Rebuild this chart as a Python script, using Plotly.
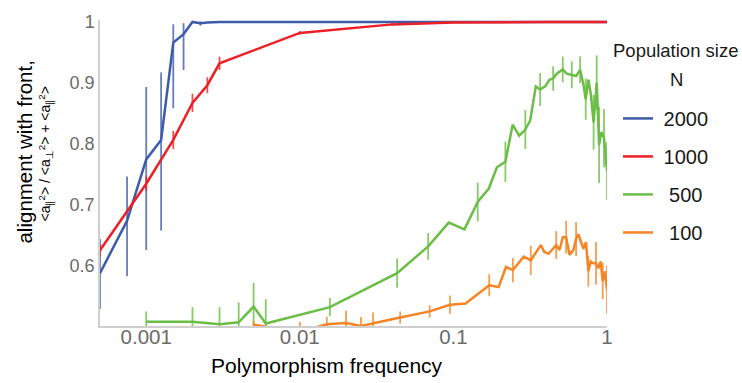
import numpy as np
import plotly.graph_objects as go

# ---- N = 2000 ----
freq_2000 = [0.0005, 0.00075, 0.001, 0.00125, 0.0015, 0.00175, 0.002, 0.00225,
             0.0025, 0.003, 0.005, 0.01, 0.1, 1.0]
align_2000 = [0.587, 0.673, 0.774, 0.806, 0.966, 0.980, 1.0, 0.998,
              0.999, 1.0, 1.0, 1.0, 1.0, 1.0]
err_up_2000 = [0.056, 0.073, 0.119, 0.111, 0.030, 0.018, 0.0, 0.003,
               0.0, 0.0, 0.0, 0.0, 0.0, 0.0]
err_dn_2000 = [0.059, 0.091, 0.149, 0.149, 0.108, 0.059, 0.0, 0.004,
               0.0, 0.0, 0.0, 0.0, 0.0, 0.0]

# ---- N = 1000 ----
freq_1000 = [0.0005, 0.001, 0.0015, 0.002, 0.0025, 0.003, 0.01, 0.04, 0.1,
             0.2, 0.3, 0.4, 0.5, 0.6, 0.7, 0.8, 0.9, 1.0]
align_1000 = [0.6245, 0.734, 0.806, 0.867, 0.896, 0.932, 0.982, 0.996, 0.999,
              1.0, 1.0, 1.0, 1.0, 1.0, 1.0, 1.0, 1.0, 1.0]
err_1000 = [0.010, 0.012, 0.015, 0.015, 0.013, 0.011, 0.003, 0.002, 0.001,
            0.001, 0.001, 0.001, 0.001, 0.001, 0.001, 0.001, 0.001, 0.001]

# ---- N = 500 ----
freq_500 = [0.001, 0.002, 0.003, 0.004, 0.005, 0.006, 0.0157, 0.043, 0.0685,
            0.0933, 0.118, 0.144, 0.17, 0.192, 0.218, 0.243, 0.268, 0.294,
            0.316, 0.344, 0.367, 0.396, 0.422, 0.446, 0.471, 0.515, 0.547,
            0.59, 0.629, 0.668, 0.700, 0.727, 0.756, 0.785, 0.818, 0.857,
            0.888, 0.92, 0.956, 1.0]
align_500 = [0.507, 0.507, 0.503, 0.506, 0.532, 0.504, 0.531, 0.587, 0.631,
             0.670, 0.659, 0.704, 0.726, 0.761, 0.770, 0.831, 0.813, 0.823,
             0.838, 0.894, 0.889, 0.894, 0.905, 0.907, 0.915, 0.922, 0.915,
             0.913, 0.911, 0.921, 0.899, 0.873, 0.905, 0.881, 0.835, 0.900,
             0.798, 0.819, 0.809, 0.755]
err_500 = [0.017, 0.024, 0.028, 0.033, 0.039, 0.040, 0.015, 0.024, 0.022,
           0.0, 0.0, 0.032, 0.0, 0.0, 0.033, 0.0, 0.0, 0.032,
           0.0, 0.0, 0.027, 0.0, 0.0, 0.020, 0.0, 0.021, 0.0,
           0.022, 0.0, 0.022, 0.0, 0.034, 0.0, 0.0, 0.045, 0.045,
           0.063, 0.0, 0.048, 0.048]

# ---- N = 100 ----
freq_100 = [0.005, 0.01, 0.015, 0.02, 0.025, 0.03, 0.045, 0.07, 0.095, 0.12,
            0.171, 0.197, 0.22, 0.244, 0.287, 0.319, 0.371, 0.39, 0.416,
            0.438, 0.467, 0.49, 0.516, 0.542, 0.57, 0.604, 0.629, 0.651,
            0.678, 0.702, 0.73, 0.756, 0.784, 0.815, 0.848, 0.878, 0.91,
            0.938, 0.97, 1.0]
align_100 = [0.502, 0.490, 0.503, 0.505, 0.500, 0.504, 0.514, 0.524, 0.535,
             0.537, 0.567, 0.564, 0.597, 0.592, 0.614, 0.608, 0.633, 0.622,
             0.619, 0.625, 0.633, 0.625, 0.646, 0.646, 0.617, 0.625, 0.643,
             0.651, 0.638, 0.627, 0.638, 0.590, 0.606, 0.603, 0.603, 0.595,
             0.606, 0.574, 0.590, 0.560]
err_100 = [0.006, 0.017, 0.012, 0.020, 0.015, 0.018, 0.010, 0.010, 0.015,
           0.0, 0.018, 0.0, 0.0, 0.020, 0.0, 0.024, 0.0, 0.0, 0.0,
           0.0, 0.023, 0.0, 0.0, 0.027, 0.0, 0.0, 0.028, 0.0,
           0.0, 0.0, 0.0, 0.025, 0.0, 0.0, 0.035, 0.0, 0.0,
           0.030, 0.0, 0.040]

x_tick_vals = [0.001, 0.01, 0.1, 1]
x_tick_text = ["0.001", "0.01", "0.1", "1"]
y_tick_vals = [0.6, 0.7, 0.8, 0.9, 1.0]
y_tick_text = ["0.6", "0.7", "0.8", "0.9", "1"]

series = [
    ("\u00a02000", freq_2000, align_2000, err_up_2000, err_dn_2000,
     "rgb(61,91,169)", "rgba(61,91,169,0.8)"),
    ("\u00a01000", freq_1000, align_1000, err_1000, err_1000,
     "rgb(236,32,38)", "rgba(236,32,38,0.8)"),
    ("\u00a0\u00a0500", freq_500, align_500, err_500, err_500,
     "rgb(106,189,69)", "rgba(106,189,69,0.8)"),
    ("\u00a0\u00a0100", freq_100, align_100, err_100, err_100,
     "rgb(245,132,38)", "rgba(245,132,38,0.8)"),
]

fig = go.Figure()
for i, (name, fx, fy, eu, ed, col, ecol) in enumerate(series):
    fig.add_trace(go.Scatter(
        x=fx, y=fy, mode="lines", name=name, legendgroup=f"g{i}",
        line=dict(color=col, width=2.5),
        error_y=dict(type="data", symmetric=False, array=eu, arrayminus=ed,
                     color=ecol, thickness=1.8, width=0),
    ))

W, H = 742, 383
ml, mr, mt, mb = 100, 135, 12, 57
plot_w = W - ml - mr
plot_h = H - mt - mb
y_top = 0.5 + plot_h / 624.0


def px_x(p):
    return (p - ml) / plot_w


def px_y(p):
    return (H - mb - p) / plot_h


fig.update_layout(
    width=W, height=H,
    margin=dict(l=ml, r=mr, t=mt, b=mb),
    paper_bgcolor="white", plot_bgcolor="white",
    font=dict(family="Liberation Sans, Arial, sans-serif", color="black"),
    showlegend=True,
    legend=dict(
        x=px_x(618), xanchor="left", y=px_y(93), yanchor="top",
        font=dict(size=20, color="#1a1a1a"),
        traceorder="grouped", tracegroupgap=9,
        bgcolor="rgba(0,0,0,0)", itemwidth=30,
    ),
    xaxis=dict(
        type="log", range=[np.log10(0.0005), 0],
        showgrid=False, zeroline=False,
        showline=True, linecolor="#cfcfcf", linewidth=1.5,
        ticks="", tickvals=x_tick_vals, ticktext=x_tick_text,
        tickfont=dict(size=20.5, color="#6b6b6b"), ticklabelstandoff=-8,
    ),
    yaxis=dict(
        range=[0.5, y_top],
        showgrid=False, zeroline=False,
        showline=True, linecolor="#cfcfcf", linewidth=1.5,
        ticks="", tickvals=y_tick_vals, ticktext=y_tick_text,
        tickfont=dict(size=18, color="#6b6b6b"), ticklabelstandoff=0,
    ),
    annotations=[
        dict(text="Polymorphism frequency", xref="paper", yref="paper",
             x=px_x(326.5), y=px_y(367), xanchor="center", yanchor="middle",
             showarrow=False, font=dict(size=21, color="black")),
        dict(text="alignment with front,", xref="paper", yref="paper",
             x=px_x(25), y=px_y(148), xanchor="center", yanchor="middle",
             textangle=-90, showarrow=False, font=dict(size=20.5, color="black")),
        dict(text="&lt;a<sub>∥</sub><sup>2</sup>&gt; / &lt;a<sub>⊥</sub><sup>2</sup>&gt; + &lt;a<sub>∥</sub><sup>2</sup>&gt;",
             xref="paper", yref="paper",
             x=px_x(46), y=px_y(150), xanchor="center", yanchor="middle",
             textangle=-90, showarrow=False, font=dict(size=14, color="black")),
        dict(text="Population size", xref="paper", yref="paper",
             x=px_x(675), y=px_y(43), xanchor="center", yanchor="middle",
             showarrow=False, font=dict(size=18.5, color="#1a1a1a")),
        dict(text="N", xref="paper", yref="paper",
             x=px_x(676), y=px_y(73), xanchor="center", yanchor="middle",
             showarrow=False, font=dict(size=18.5, color="#1a1a1a")),
    ],
)

fig.write_html("out.html")
